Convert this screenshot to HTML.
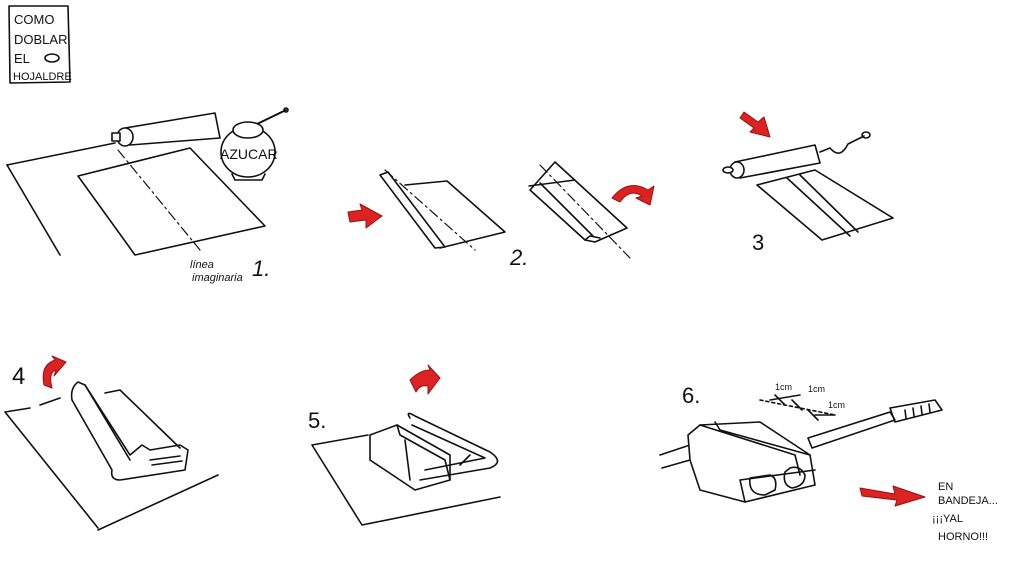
<!DOCTYPE html>
<html><head><meta charset="utf-8"><style>
html,body{margin:0;padding:0;background:#fff;width:1024px;height:563px;overflow:hidden}
svg{display:block}
text{font-family:"Liberation Sans",sans-serif;fill:#111}
</style></head><body>
<svg width="1024" height="563" viewBox="0 0 1024 563" fill="none" stroke="#111" stroke-width="1.6" stroke-linecap="round" stroke-linejoin="round">
<!-- title box -->
<path d="M9 6 L68 6 L70 82 L10 83 Z"/>
<text x="14" y="24" font-size="13" stroke="none">COMO</text>
<text x="14" y="44" font-size="13" stroke="none">DOBLAR</text>
<text x="14" y="63" font-size="13" stroke="none">EL</text>
<ellipse cx="52" cy="58" rx="7" ry="4"/>
<text x="13" y="80" font-size="11" stroke="none">HOJALDRE</text>

<!-- panel 1 -->
<path d="M7 165 L115 143"/><path d="M7 165 L60 255"/>
<path d="M78 176 L190 148 L265 226 L135 255 Z"/>
<path d="M118 150 L200 250" stroke-dasharray="10 4 2 4" stroke-width="1.2"/>
<path d="M125 128 L215 113 L220 138 L130 145 Z" fill="#fff"/>
<ellipse cx="125" cy="137" rx="8" ry="9" fill="#fff"/>
<path d="M112 133 L120 133 L120 141 L112 141 Z" fill="#fff"/>
<path d="M255 125 L286 110" stroke-width="2"/>
<circle cx="286" cy="110" r="2"/>
<ellipse cx="248" cy="152" rx="27" ry="25" fill="#fff"/>
<ellipse cx="248" cy="130" rx="15" ry="8" fill="#fff"/>
<path d="M232 174 L235 180 L262 180 L265 174"/>
<text x="220" y="159" font-size="14" stroke="none">AZUCAR</text>
<text x="190" y="268" font-size="11" font-style="italic" stroke="none">línea</text>
<text x="192" y="281" font-size="11" font-style="italic" stroke="none">imaginaria</text>
<text x="252" y="276" font-size="22" font-style="italic" stroke="none">1.</text>

<!-- panel 2 -->
<path d="M380 175 L388 172 L445 247 L435 248 Z" fill="#fff"/>
<path d="M405 185 L447 181 L505 232 L440 248"/>
<path d="M385 170 L475 250" stroke-dasharray="10 4 2 4" stroke-width="1.2"/>
<path d="M348 212 L362 210 L360 204 L382 216 L366 228 L366 220 L350 222 Z" fill="#d22" stroke="#911" stroke-width="1"/>
<text x="510" y="265" font-size="22" font-style="italic" stroke="none">2.</text>
<path d="M529 186 L575 180 M555 162 L627 228 L595 242 L585 240 L530 190 Z"/>
<path d="M540 183 L593 236 M585 240 L590 236 L600 238"/>
<path d="M540 165 L630 258" stroke-dasharray="10 4 2 4" stroke-width="1.2"/>
<path d="M612 198 Q628 178 648 190 L654 186 L650 205 L636 198 L642 196 Q630 188 620 202 Z" fill="#d22" stroke="#911" stroke-width="1"/>

<!-- panel 3 -->
<path d="M744 112 L758 122 L764 117 L770 137 L750 132 L754 128 L740 118 Z" fill="#d22" stroke="#911" stroke-width="1"/>
<path d="M735 162 L815 145 L820 163 L740 178 Z" fill="#fff"/>
<ellipse cx="737" cy="170" rx="7" ry="8" fill="#fff"/>
<ellipse cx="728" cy="170" rx="5" ry="3" fill="#fff"/>
<path d="M820 152 L830 148 Q840 160 848 144 L864 136"/>
<ellipse cx="866" cy="135" rx="4" ry="3"/>
<path d="M757 185 L815 170 L893 218 L822 240 Z" fill="#fff"/>
<path d="M787 178 L850 236 M800 175 L858 232"/>
<text x="752" y="250" font-size="22" stroke="none">3</text>

<!-- panel 4 -->
<text x="12" y="384" font-size="24" stroke="none">4</text>
<path d="M44 385 Q40 365 55 360 L52 356 L66 362 L54 376 L56 370 Q48 372 52 388 Z" fill="#d22" stroke="#911" stroke-width="1"/>
<path d="M5 412 L30 408 M40 405 L60 398 M5 412 L98 528 M98 530 L218 475"/>
<path d="M78 382 Q70 388 72 400 L112 470 Q110 480 120 480 L185 470 L188 450 L180 445 L150 450 L142 445 L130 455 L85 385 Z" fill="#fff"/>
<path d="M105 393 L120 390 L180 448"/>
<path d="M85 385 L130 460 M150 460 L180 456 M152 465 L182 461"/>

<!-- panel 5 -->
<text x="308" y="428" font-size="22" stroke="none">5.</text>
<path d="M410 380 Q420 370 430 370 L428 365 L440 378 L428 394 L428 386 Q420 384 416 392 Z" fill="#d22" stroke="#911" stroke-width="1"/>
<path d="M312 445 L368 435 M312 445 L362 525 L500 497"/>
<path d="M370 435 L397 425 L450 455 L450 480 L415 490 L370 460 Z" fill="#fff"/>
<path d="M397 425 L400 435 L445 460 L450 480 M405 440 L410 480"/>
<path d="M410 418 Q405 410 415 416 L490 452 Q505 462 490 468 L420 480 M412 425 L485 458 L425 470 M460 465 L470 455"/>

<!-- panel 6 -->
<text x="682" y="403" font-size="22" stroke="none">6.</text>
<text x="775" y="390" font-size="9" stroke="none">1cm</text>
<text x="808" y="392" font-size="9" stroke="none">1cm</text>
<text x="828" y="408" font-size="9" stroke="none">1cm</text>
<path d="M760 400 L835 415" stroke-dasharray="3 3"/>
<path d="M770 400 L800 395 M775 395 L785 405 M792 400 L802 410 M808 410 L818 420 M815 415 L835 415"/>
<path d="M660 455 L690 445 M662 468 L690 460"/>
<path d="M688 435 L700 425 L760 422 L810 455 L815 485 L745 502 L700 490 L690 460 Z" fill="#fff"/>
<path d="M715 422 L720 430 L810 455 M700 425 L795 455 L800 475"/>
<path d="M745 502 L740 480 L815 470 M750 478 Q748 495 765 495 L775 490 Q778 478 770 475 Z M785 472 Q782 485 792 488 Q805 486 805 475 Q800 465 790 468 Z"/>
<path d="M808 438 L890 412 L895 420 L812 448 Z"/>
<path d="M890 408 L935 400 L942 410 L895 422 Z"/>
<path d="M905 410 L906 418 M913 408 L914 416 M921 406 L922 414 M929 404 L930 412"/>
<path d="M860 488 L895 494 L893 486 L925 497 L895 506 L897 500 L862 496 Z" fill="#d22" stroke="#911" stroke-width="1"/>
<text x="938" y="490" font-size="11" stroke="none">EN</text>
<text x="938" y="504" font-size="11" stroke="none">BANDEJA...</text>
<text x="932" y="522" font-size="11" stroke="none">¡¡¡YAL</text>
<text x="938" y="540" font-size="11" stroke="none">HORNO!!!</text>
</svg>
</body></html>
